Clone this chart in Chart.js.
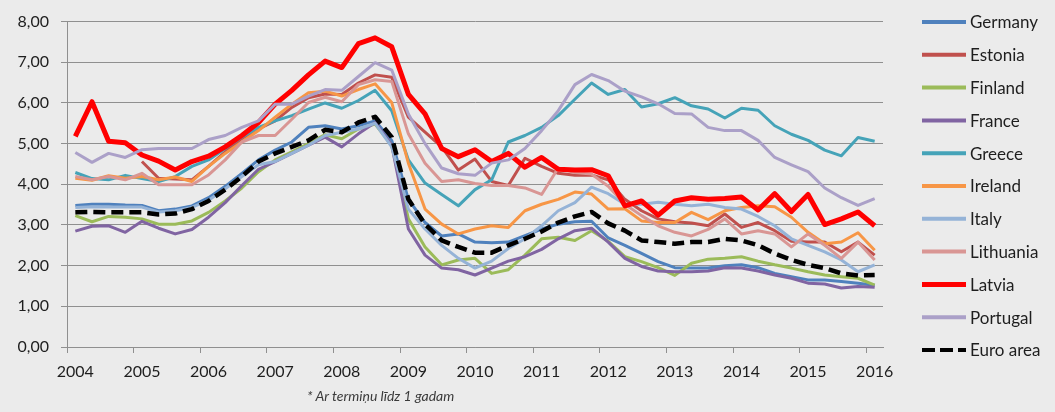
<!DOCTYPE html>
<html>
<head>
<meta charset="utf-8">
<script src="https://cdn.jsdelivr.net/npm/chart.js@4.4.1/dist/chart.umd.min.js"></script>
<style>
  html, body { margin: 0; padding: 0; background: #ebebeb; }
  #wrap { position: relative; width: 1055px; height: 412px; overflow: hidden; background: #ebebeb; }
  #note { position: absolute; left: 307px; top: 387px; font-family: Lato, "Open Sans", sans-serif; font-style: italic; font-size: 14px; color: #3a3a3a; white-space: nowrap; }
</style>
</head>
<body>
<div id="wrap">
  <canvas id="c" width="1055" height="412"></canvas>
  <div id="note">* Ar termiņu līdz 1 gadam</div>
</div>
<script>
// ---- data (quarterly, 2004 Q1 – 2016 Q1) ----
const years = [2004, 2005, 2006, 2007, 2008, 2009, 2010, 2011, 2012, 2013, 2014, 2015, 2016];
const quarters = ['Q1', 'Q2', 'Q3', 'Q4'];
const categories = [];
years.forEach(y => quarters.forEach(q => { if (!(y === 2016 && q !== 'Q1')) categories.push(y + ' ' + q); }));

const yTicks = [0, 1, 2, 3, 4, 5, 6, 7, 8];

const germany = [3.48,3.51,3.51,3.49,3.48,3.35,3.39,3.47,3.67,3.95,
  4.27,4.60,4.84,5.04,5.40,5.44,5.36,5.44,5.56,5.08,
  3.63,3.06,2.73,2.78,2.58,2.56,2.58,2.74,2.90,3.02,
  3.08,3.09,2.68,2.50,2.30,2.10,1.95,1.94,1.94,2.00,
  2.02,1.95,1.81,1.73,1.65,1.65,1.61,1.57,1.52];
const estonia = [null,null,null,null,4.56,4.15,4.13,4.11,4.44,4.80,
  5.12,5.36,5.56,5.89,6.13,6.22,6.21,6.49,6.69,6.63,
  5.65,5.28,4.92,4.35,4.62,4.07,3.97,4.64,4.44,4.27,
  4.22,4.23,4.11,3.63,3.35,3.15,3.08,3.05,2.98,3.27,
  2.94,3.06,2.86,2.60,2.58,2.58,2.34,2.58,2.26];
const finland = [3.23,3.08,3.21,3.19,3.15,3.02,3.02,3.10,3.31,3.59,
  3.91,4.31,4.60,4.80,5.00,5.22,5.12,5.36,5.48,4.96,
  3.15,2.46,2.02,2.14,2.18,1.81,1.90,2.26,2.66,2.70,
  2.62,2.86,2.60,2.22,2.10,1.95,1.76,2.06,2.16,2.18,
  2.22,2.11,2.02,1.94,1.85,1.77,1.73,1.69,1.52];
const france = [2.85,2.97,2.98,2.82,3.09,2.92,2.78,2.89,3.19,3.55,
  3.97,4.37,4.56,4.76,4.96,5.16,4.92,5.24,5.52,4.96,
  2.90,2.26,1.94,1.90,1.77,1.94,2.11,2.22,2.40,2.66,
  2.86,2.92,2.58,2.18,1.98,1.87,1.85,1.85,1.87,1.95,
  1.94,1.87,1.77,1.69,1.57,1.55,1.45,1.49,1.47];
const greece = [4.29,4.14,4.11,4.22,4.14,4.07,4.19,4.44,4.60,4.88,
  5.16,5.40,5.56,5.69,5.85,6.00,5.87,6.06,6.31,5.81,
  4.60,4.03,3.75,3.47,3.87,4.11,5.04,5.20,5.40,5.69,
  6.09,6.49,6.21,6.33,5.90,5.98,6.13,5.93,5.85,5.63,
  5.87,5.82,5.44,5.23,5.08,4.84,4.70,5.15,5.06];
const ireland = [4.15,4.10,4.21,4.15,4.19,4.11,4.18,4.07,4.44,4.76,
  5.04,5.32,5.65,5.97,6.25,6.29,6.17,6.33,6.47,6.01,
  4.52,3.39,3.02,2.78,2.90,2.98,2.94,3.35,3.51,3.63,
  3.81,3.76,3.39,3.40,3.10,3.06,3.06,3.31,3.13,3.35,
  3.43,3.47,3.45,3.19,2.82,2.54,2.58,2.81,2.38];
const italy = [3.43,3.45,3.44,3.44,3.44,3.32,3.35,3.43,3.61,3.89,
  4.19,4.48,4.56,4.76,4.96,5.20,5.28,5.36,5.50,4.92,
  3.39,2.90,2.50,2.18,1.94,2.11,2.42,2.66,2.98,3.35,
  3.55,3.93,3.77,3.51,3.51,3.56,3.51,3.47,3.51,3.43,
  3.39,3.21,2.98,2.66,2.50,2.34,2.14,1.85,2.02];
const lithuania = [4.19,4.11,4.19,4.11,4.27,3.99,3.99,3.99,4.23,4.60,
  5.04,5.20,5.20,5.60,6.01,6.14,6.03,6.45,6.57,6.53,
  5.24,4.52,4.07,4.11,4.02,3.97,3.97,3.91,3.75,4.40,
  4.29,4.25,3.95,3.51,3.23,2.98,2.82,2.73,2.89,3.15,
  2.78,2.86,2.78,2.46,2.78,2.50,2.18,2.58,2.14];
const latvia = [5.18,6.03,5.06,5.02,4.72,4.57,4.35,4.56,4.69,4.92,
  5.20,5.52,5.97,6.31,6.69,7.03,6.87,7.46,7.60,7.38,
  6.21,5.73,4.88,4.68,4.85,4.56,4.76,4.42,4.66,4.37,
  4.35,4.36,4.21,3.47,3.59,3.24,3.59,3.67,3.63,3.65,
  3.69,3.37,3.77,3.33,3.75,3.01,3.15,3.32,2.98];
const portugal = [4.78,4.54,4.76,4.66,4.85,4.88,4.88,4.88,5.10,5.20,
  5.40,5.56,5.97,5.97,6.17,6.33,6.31,6.65,6.99,6.81,
  5.73,5.00,4.40,4.26,4.22,4.52,4.60,4.88,5.32,5.81,
  6.45,6.70,6.55,6.29,6.15,5.98,5.74,5.73,5.40,5.32,
  5.32,5.08,4.66,4.48,4.31,3.91,3.67,3.48,3.65];
const euroArea = [3.31,3.32,3.31,3.31,3.31,3.26,3.28,3.39,3.59,3.87,
  4.19,4.56,4.76,4.92,5.08,5.34,5.28,5.52,5.66,5.16,
  3.63,3.02,2.62,2.46,2.32,2.32,2.50,2.66,2.84,3.06,
  3.21,3.32,3.04,2.86,2.62,2.58,2.54,2.58,2.58,2.66,
  2.62,2.50,2.30,2.14,2.02,1.94,1.81,1.76,1.77];

const seriesNames = ['Germany','Estonia','Finland','France','Greece','Ireland','Italy','Lithuania','Latvia','Portugal','Euro area'];
const seriesValues = [germany, estonia, finland, france, greece, ireland, italy, lithuania, latvia, portugal, euroArea];
const seriesColors = ['#4F81BD','#C0504D','#9BBB59','#8064A2','#45A3B8','#F79646','#95B3D7','#D99694','#FF0000','#ABA0C8','#000000'];

// ---- chart ----
const FONT = 'Lato, "Open Sans", sans-serif';
const GRID = '#8f8f8f';

const datasets = seriesNames.map((name, i) => {
  const isLatvia = name === 'Latvia';
  const isEuro = name === 'Euro area';
  return {
    label: name,
    data: seriesValues[i],
    borderColor: seriesColors[i],
    backgroundColor: seriesColors[i],
    borderWidth: isLatvia ? 5 : (isEuro ? 4.5 : 3),
    borderDash: isEuro ? [12, 6] : [],
    pointRadius: 0,
    pointHoverRadius: 0,
    tension: 0,
    fill: false,
    spanGaps: false,
    borderJoinStyle: 'round',
    order: seriesNames.length - i
  };
});

const legendPlugin = {
  id: 'sideLegend',
  afterDraw(chart) {
    const ctx = chart.ctx;
    ctx.save();
    ctx.font = '17px ' + FONT;
    ctx.textBaseline = 'middle';
    ctx.fillStyle = '#1e1e1e';
    chart.data.datasets.forEach((ds, i) => {
      const y = 22 + i * 32.8;
      ctx.beginPath();
      ctx.strokeStyle = ds.borderColor;
      ctx.lineWidth = ds.label === 'Latvia' ? 5 : 4;
      ctx.setLineDash(ds.borderDash && ds.borderDash.length ? [13, 5] : []);
      ctx.lineCap = 'butt';
      ctx.moveTo(922, y);
      ctx.lineTo(966, y);
      ctx.stroke();
      ctx.setLineDash([]);
      ctx.fillText(ds.label, 970, y + 1);
    });
    ctx.restore();
  }
};

new Chart(document.getElementById('c'), {
  type: 'line',
  data: { labels: categories, datasets },
  plugins: [legendPlugin],
  options: {
    responsive: false,
    devicePixelRatio: 1,
    animation: false,
    events: [],
    layout: { padding: { top: 17, right: 172, bottom: 30, left: 0 } },
    plugins: { legend: { display: false }, tooltip: { enabled: false }, title: { display: false } },
    scales: {
      x: {
        type: 'category',
        offset: true,
        grid: {
          offset: true,
          drawOnChartArea: false,
          drawTicks: true,
          tickLength: 6,
          tickColor: (c) => (c.index % 4 === 0 && c.index < categories.length) ? GRID : 'rgba(0,0,0,0)',
          color: 'rgba(0,0,0,0)'
        },
        border: { display: true, color: GRID, width: 1 },
        ticks: {
          autoSkip: false,
          maxRotation: 0,
          minRotation: 0,
          padding: 9,
          color: '#1e1e1e',
          font: { family: FONT, size: 16 },
          callback: function(value, index) {
            const lab = this.getLabelForValue(value);
            return index % 4 === 0 ? lab.split(' ')[0] : '';
          }
        },
        afterFit(scale) { scale.height = 35; }
      },
      y: {
        min: 0,
        max: 8,
        afterBuildTicks(scale) { scale.ticks = yTicks.map(v => ({ value: v })); },
        grid: { color: GRID, lineWidth: 1, drawTicks: true, tickLength: 6, tickColor: GRID },
        border: { display: true, color: GRID, width: 1 },
        ticks: {
          padding: 12,
          color: '#1e1e1e',
          font: { family: FONT, size: 16 },
          callback: (v) => v.toFixed(2).replace('.', ',')
        },
        afterFit(scale) { scale.width = 67; }
      }
    }
  }
});
</script>
</body>
</html>
